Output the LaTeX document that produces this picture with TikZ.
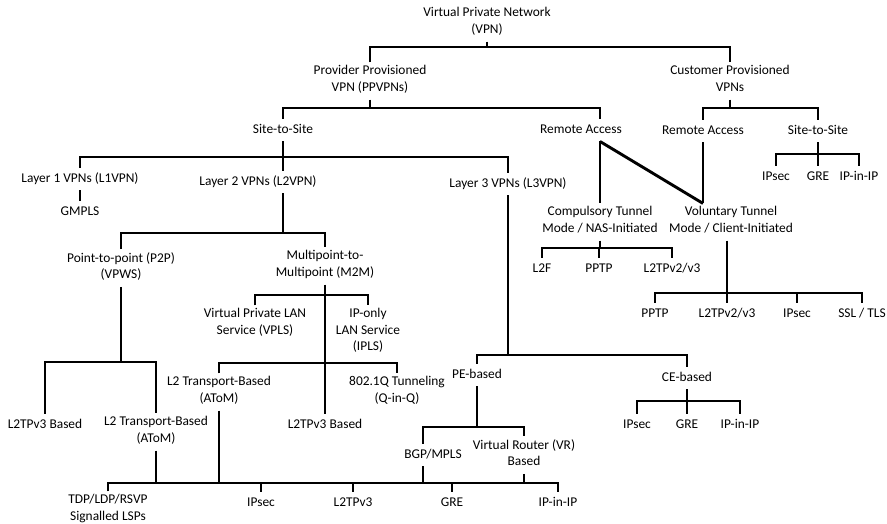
\documentclass[tikz,border=0pt]{standalone}
\usepackage{fontspec}
\setmainfont{Carlito}

\begin{document}
\begin{tikzpicture}[x=1pt,y=-1pt,
  box/.style={inner sep=3pt,align=center,font=\fontsize{13.4}{16.5}\selectfont,
    execute at begin node=\strut,execute at end node=\strut},
  link/.style={line width=2.9pt}]

\useasboundingbox (0,0) rectangle (887,523);

\node[box] (vpn) at (487,23) {Virtual Private Network\\(VPN)};
\node[box] (ppvpn) at (370,81) {Provider Provisioned\\VPN (PPVPNs)};
\node[box] (cpvpn) at (730,81) {Customer Provisioned\\VPNs};
\node[box] (ppsite) at (283,130) {Site-to-Site};
\node[box] (ppremote) at (581,130) {Remote Access};
\node[box] (cpremote) at (703,131) {Remote Access};
\node[box] (cpsite) at (818,131) {Site-to-Site};
\node[box] (cpipsec) at (776,177) {IPsec};
\node[box] (cpgre) at (818,177) {GRE};
\node[box] (cpipip) at (859,177) {IP-in-IP};
\node[box] (l1vpn) at (80,179) {Layer 1 VPNs (L1VPN)};
\node[box] (gmpls) at (80,212) {GMPLS};
\node[box] (l2vpn) at (258,182) {Layer 2 VPNs (L2VPN)};
\node[box] (l3vpn) at (508,184) {Layer 3 VPNs (L3VPN)};
\node[box] (comp) at (600,222) {Compulsory Tunnel\\Mode / NAS-Initiated};
\node[box] (volun) at (731,222) {Voluntary Tunnel\\Mode / Client-Initiated};
\node[box] (compl2f) at (542,269) {L2F};
\node[box] (comppptp) at (599,269) {PPTP};
\node[box] (compl2tp) at (672,269) {L2TPv2/v3};
\node[box] (volpptp) at (655,314) {PPTP};
\node[box] (voll2tp) at (727,314) {L2TPv2/v3};
\node[box] (volipsec) at (797,314) {IPsec};
\node[box] (volssl) at (862,314) {SSL / TLS};
\node[box] (p2p) at (121,268) {Point-to-point (P2P)\\(VPWS)};
\node[box] (m2m) at (325,266) {Multipoint-to-\\Multipoint (M2M)};
\node[box] (vpls) at (255,324) {Virtual Private LAN\\Service (VPLS)};
\node[box] (ipls) at (368,332) {IP-only\\LAN Service\\(IPLS)};
\node[box] (p2pl2tp) at (45,425) {L2TPv3 Based};
\node[box] (p2patom) at (156,432) {L2 Transport-Based\\(AToM)};
\node[box] (m2matom) at (219,392) {L2 Transport-Based\\(AToM)};
\node[box] (m2ml2tp) at (325,425) {L2TPv3 Based};
\node[box] (qinq) at (397,392) {802.1Q Tunneling\\(Q-in-Q)};
\node[box] (pe) at (477,375) {PE-based};
\node[box] (ce) at (687,378) {CE-based};
\node[box] (bgp) at (433,455) {BGP/MPLS};
\node[box] (vr) at (524,455) {Virtual Router (VR)\\Based};
\node[box] (ceipsec) at (637,425) {IPsec};
\node[box] (cegre) at (687,425) {GRE};
\node[box] (ceipip) at (740,425) {IP-in-IP};
\node[box] (tdp) at (108,510) {TDP/LDP/RSVP\\Signalled LSPs};
\node[box] (bipsec) at (261,503) {IPsec};
\node[box] (bl2tp) at (353,503) {L2TPv3};
\node[box] (bgre) at (452,503) {GRE};
\node[box] (bipip) at (558,503) {IP-in-IP};

\coordinate (vpnj) at (487,47);
\coordinate (ppj) at (370,108);
\coordinate (cpj) at (730,108);
\coordinate (ppsitej) at (283,157);
\coordinate (cpsitej) at (818,154);
\coordinate (l2j) at (283,233);
\coordinate (compj) at (600,248);
\coordinate (volj) at (727,293);
\coordinate (p2pj) at (121,362);
\coordinate (m2mj) at (325,295);
\coordinate (m2mlowj) at (325,363);
\coordinate (l3j) at (508,355);
\coordinate (pej) at (477,427);
\coordinate (cej) at (687,401);
\coordinate (basej) at (330,483);

\draw[link] (vpn.south) -- (vpnj);
\draw[link] (ppvpn.north) |- (vpnj) -| (cpvpn.north);
\draw[link] (ppvpn.south) -- (ppj);
\draw[link] (ppsite.north) |- (ppj) -| ([xshift=19pt]ppremote.north);
\draw[link] (cpvpn.south) -- (cpj);
\draw[link] (cpremote.north) |- (cpj) -| (cpsite.north);
\draw[link] (cpsite.south) -- (cpgre.north);
\draw[link] (cpipsec.north) |- (cpsitej) -| (cpipip.north);

\draw[link] (ppsite.south) -- (ppsite.south |- l2vpn.north);
\draw[link] (l1vpn.north) |- (ppsitej) -| (l3vpn.north);
\draw[link] (l1vpn.south) -- (gmpls.north);
\draw[link] (ppsite.south |- l2vpn.south) -- (l2j);
\draw[link] (p2p.north) |- (l2j) -| (m2m.north);

\draw[link] ([xshift=19pt]ppremote.south) -- (comp.north);
\draw[link] ([xshift=19pt]ppremote.south) -- (cpremote.south |- volun.north);
\draw[link] (cpremote.south) -- (cpremote.south |- volun.north);
\draw[link] (comp.south) -- (compj);
\draw[link] (compl2f.north) |- (compj) -| (compl2tp.north);
\draw[link] (comppptp.north) -- (comppptp.north |- compj);
\draw[link] (volun.south -| volj) -- (volj);
\draw[link] (volpptp.north) |- (volj) -| (volssl.north);
\draw[link] (voll2tp.north) -- (volj);
\draw[link] (volipsec.north) -- (volipsec.north |- volj);

\draw[link] (p2p.south) -- (p2pj);
\draw[link] (p2pl2tp.north) |- (p2pj) -| (p2patom.north);
\draw[link] (m2m.south) -- (m2ml2tp.north);
\draw[link] (vpls.north) |- (m2mj) -| (ipls.north);
\draw[link] (m2matom.north) |- (m2mlowj) -| (qinq.north);

\draw[link] (tdp.north) |- (basej) -| (bipip.north);
\draw[link] (p2patom.south) -- (p2patom.south |- basej);
\draw[link] (m2matom.south) -- (m2matom.south |- basej);
\draw[link] (bipsec.north) -- (bipsec.north |- basej);
\draw[link] (bl2tp.north) -- (bl2tp.north |- basej);
\draw[link] (bgre.north) -- (bgre.north |- basej);
\draw[link] ([xshift=-10pt]bgp.south) -- ([xshift=-10pt]bgp.south |- basej);
\draw[link] (vr.south) -- (vr.south |- basej);

\draw[link] (l3vpn.south) -- (l3j);
\draw[link] (pe.north) |- (l3j) -| (ce.north);
\draw[link] (pe.south) -- (pej);
\draw[link] ([xshift=-10pt]bgp.north) |- (pej) -| (vr.north);
\draw[link] (ce.south) -- (cej);
\draw[link] (ceipsec.north) |- (cej) -| (ceipip.north);
\draw[link] (cegre.north) -- (cej);

\end{tikzpicture}
\end{document}
